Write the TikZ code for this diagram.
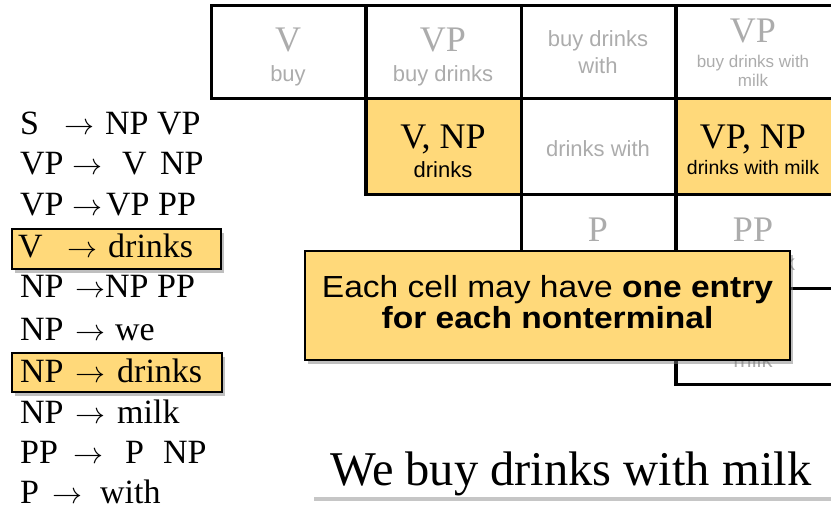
\documentclass[tikz,border=0pt]{standalone}
\usepackage{fontspec}
\usepackage{graphicx}
\setmainfont{Liberation Serif}
\newfontfamily\sansf{Liberation Sans}
\newfontfamily\calloutf[FakeStretch=1.1]{Liberation Sans}
\usetikzlibrary{shadows}
\definecolor{hl}{RGB}{255,217,122}
\definecolor{lg}{RGB}{172,172,172}
\newcommand{\myarrow}{{\fontsize{10}{12}\selectfont\scalebox{3.0}{$\rightarrow$}}}
\begin{document}
\begin{tikzpicture}[x=1pt,y=-1pt,
  gridline/.style={line width=3.5pt,line cap=rect},
  rulet/.style={inner sep=0pt,anchor=base west,font=\fontsize{34}{36}\selectfont},
  big/.style={inner sep=0pt,anchor=base,font=\fontsize{36}{38}\selectfont},
  small/.style={inner sep=0pt,anchor=base,font=\sansf\fontsize{22}{24}\selectfont},
  tiny/.style={inner sep=0pt,anchor=base,font=\sansf\fontsize{17}{19}\selectfont},
  mid/.style={inner sep=0pt,anchor=base,font=\sansf\fontsize{19.5}{21}\selectfont},
  hlbox/.style={fill=hl,draw=black,line width=1.3pt,drop shadow={shadow xshift=3pt,shadow yshift=-4pt,opacity=0.5}},
]
\useasboundingbox (0,0) rectangle (831,511);

% yellow cells
\fill[hl] (366,98.7) rectangle (521.5,194.5);
\fill[hl] (676,98.7) rectangle (835,194.5);

% grid lines
\draw[gridline] (211.5,5.3) -- (840,5.3);
\draw[gridline] (211.5,98.7) -- (840,98.7);
\draw[gridline] (366,194.5) -- (840,194.5);
\draw[gridline] (521.5,288.3) -- (840,288.3);
\draw[gridline] (676,384.3) -- (840,384.3);
\draw[gridline] (211.5,5.3) -- (211.5,98.7);
\draw[gridline] (366,5.3) -- (366,194.5);
\draw[gridline] (521.5,5.3) -- (521.5,288.3);
\draw[gridline] (676,5.3) -- (676,384.3);

% row 1
\node[big,text=lg] (c11a) at (288,52) {V};
\node[small,text=lg] (c11b) at (288,82) {buy};
\node[big,text=lg] (c12a) at (443,52) {VP};
\node[small,text=lg] (c12b) at (443,82) {buy drinks};
\node[small,text=lg] (c13a) at (598,47) {buy drinks};
\node[small,text=lg] (c13b) at (598,74) {with};
\node[big,text=lg] (c14a) at (753,43) {VP};
\node[tiny,text=lg] (c14b) at (753,68) {buy drinks with};
\node[tiny,text=lg] (c14c) at (753,87) {milk};
% row 2
\node[big] (c22a) at (443,148) {V, NP};
\node[small] (c22b) at (443,177) {drinks};
\node[small,text=lg] (c23a) at (598,157) {drinks with};
\node[big] (c24a) at (753,148) {VP, NP};
\node[mid] (c24b) at (753,175) {drinks with milk};
% row 3
\node[big,text=lg] (c33a) at (598,241) {P};
\node[big,text=lg] (c34a) at (753,241) {PP};
\node[small,text=lg] (c34b) at (753,270) {with milk};
% row 4
\node[small,text=lg] (c44b) at (753,367) {milk};

% callout
\node[hlbox,minimum width=485pt,minimum height=109pt,inner sep=0pt] (callout) at (547.5,305.5) {};
\node[inner sep=0pt,anchor=base,font=\calloutf\fontsize{30.5}{31}\selectfont] (cl1) at (547.5,297) {Each cell may have \textbf{one entry}};
\node[inner sep=0pt,anchor=base,font=\calloutf\bfseries\fontsize{30.5}{31}\selectfont] (cl2) at (547.5,328) {for each nonterminal};

% grammar highlight boxes
\node[hlbox,minimum width=209pt,minimum height=40pt,inner sep=0pt] (hb1) at (116.5,249) {};
\node[hlbox,minimum width=210pt,minimum height=39pt,inner sep=0pt] (hb2) at (117,372.5) {};

% grammar rules
\node[rulet] (r1l) at (20,135) {S};
\node[rulet] (r1a) at (64,135) {\myarrow};
\node[rulet] (r1r) at (105,135) {NP VP};
\node[rulet] (r2l) at (20,175) {VP};
\node[rulet] (r2a) at (72,175) {\myarrow};
\node[rulet] (r2r) at (122,175) {V};
\node[rulet] (r2s) at (160,175) {NP};
\node[rulet] (r3l) at (20,215) {VP};
\node[rulet] (r3a) at (72,215) {\myarrow};
\node[rulet] (r3r) at (106,215) {VP PP};
\node[rulet] (r4l) at (18,257) {V};
\node[rulet] (r4a) at (67,257) {\myarrow};
\node[rulet] (r4r) at (108,257) {drinks};
\node[rulet] (r5l) at (20,297) {NP};
\node[rulet] (r5a) at (75,297) {\myarrow};
\node[rulet] (r5r) at (105,297) {NP PP};
\node[rulet] (r6l) at (20,340) {NP};
\node[rulet] (r6a) at (75,340) {\myarrow};
\node[rulet] (r6r) at (115,340) {we};
\node[rulet] (r7l) at (20,382) {NP};
\node[rulet] (r7a) at (75,382) {\myarrow};
\node[rulet] (r7r) at (117,382) {drinks};
\node[rulet] (r8l) at (20,423) {NP};
\node[rulet] (r8a) at (75,423) {\myarrow};
\node[rulet] (r8r) at (117,423) {milk};
\node[rulet] (r9l) at (20,463) {PP};
\node[rulet] (r9a) at (73,463) {\myarrow};
\node[rulet] (r9r) at (125,463) {P};
\node[rulet] (r9s) at (163,463) {NP};
\node[rulet] (r10l) at (20,503) {P};
\node[rulet] (r10a) at (52,503) {\myarrow};
\node[rulet] (r10r) at (100,503) {with};

% sentence box
\node[fill=white,drop shadow={shadow xshift=2pt,shadow yshift=-4pt,opacity=0.45},minimum width=540pt,minimum height=60pt,inner sep=0pt,anchor=north west] (sbox) at (312,437) {};
\node[inner sep=0pt,anchor=base west,font=\fontsize{48.5}{50}\selectfont] (sent) at (330,485) {We buy drinks with milk};
\end{tikzpicture}
\end{document}
